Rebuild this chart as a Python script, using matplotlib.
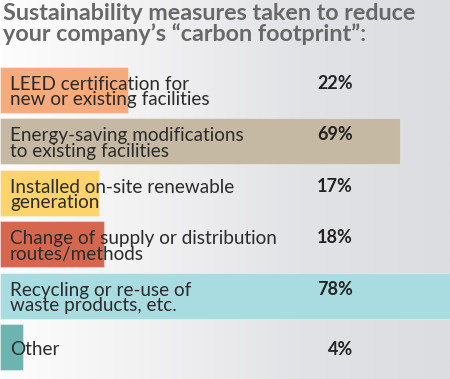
import matplotlib

matplotlib.use("Agg")
import matplotlib.pyplot as plt
import numpy as np
from matplotlib.colors import LinearSegmentedColormap

TITLE = "Sustainability measures taken to reduce\nyour company\u2019s \u201ccarbon footprint\u201d:"
categories = [
    "LEED certification for\nnew or existing facilities",
    "Energy-saving modifications\nto existing facilities",
    "Installed on-site renewable\ngeneration",
    "Change of supply or distribution\nroutes/methods",
    "Recycling or re-use of\nwaste products, etc.",
    "Other",
]
values = [22, 69, 17, 18, 78, 4]
colors = ["#f6ab7c", "#c5b9a3", "#fdd46c", "#d5674f", "#a9dce1", "#6db4b1"]

W, H = 450, 379
PX_PER_PCT = 5.8
PITCH = 51.5
FIRST_CENTER = 89.5

fig = plt.figure(figsize=(W / 100, H / 100), dpi=100)

# background gradient, white on the left to light grey on the right
bg = fig.add_axes([0, 0, 1, 1], zorder=0)
bg.axis("off")
grad = LinearSegmentedColormap.from_list("bg", ["#fdfdfd", "#f1f1f2", "#e2e3e6", "#dcdde0"])
bg.imshow(np.linspace(0, 1, 256)[None, :], aspect="auto", cmap=grad, extent=[0, 1, 0, 1])

ax = fig.add_axes([0, 0, 1, 1], zorder=1)
ax.patch.set_alpha(0)
ax.axis("off")
ax.set_xlim(0, W / PX_PER_PCT)
ax.set_ylim((H - FIRST_CENTER) / PITCH, -FIRST_CENTER / PITCH)

y = np.arange(len(categories))
ax.barh(y, values, height=46 / PITCH, color=colors, edgecolor="#ffffff55", linewidth=0.8)

font = "Lato"
for i, (label, v) in enumerate(zip(categories, values)):
    two_lines = "\n" in label
    ax.text(10 / PX_PER_PCT, i + 0.05, label, ha="left", va="center", fontsize=13.6,
            family=font, color="#2b2b2b", linespacing=0.88)
    ax.text(353 / PX_PER_PCT, i - (0.12 if two_lines else -0.04), f"{v}%", ha="right",
            va="center", fontsize=13, family=font, fontweight="bold", color="#222222")

fig.text(3 / W, 1 - 3 / H, TITLE, ha="left", va="top", fontsize=16.8, family=font,
         fontweight="bold", color="#686868", linespacing=0.92)

fig.savefig("out.png", dpi=100)
